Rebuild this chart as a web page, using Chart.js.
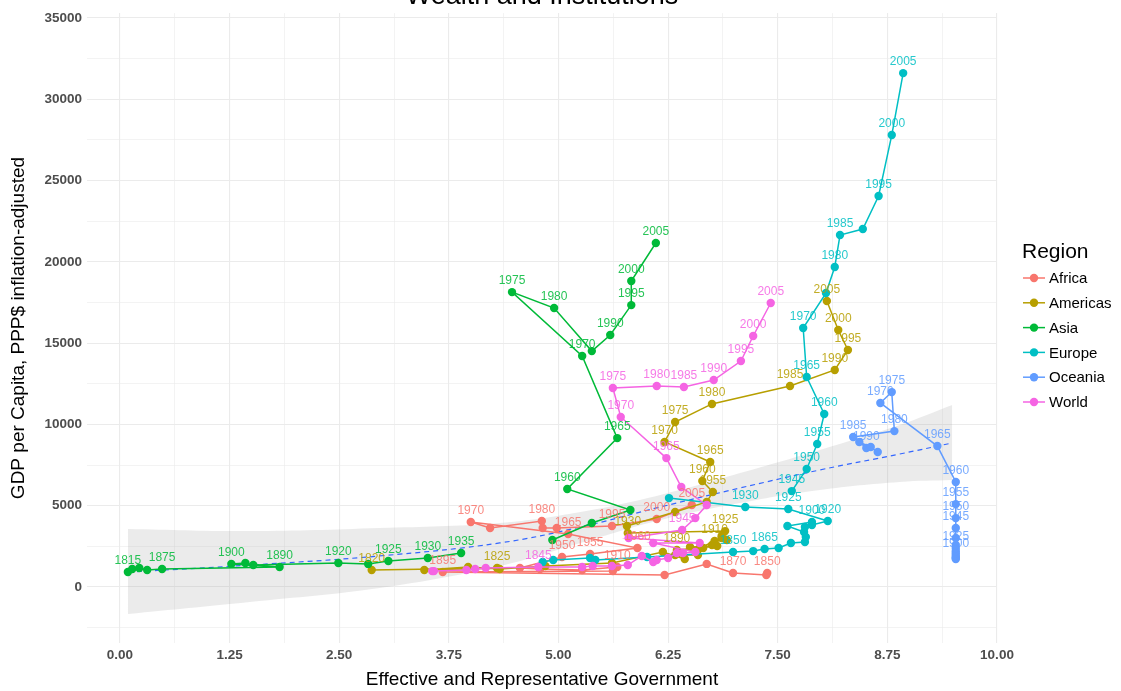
<!DOCTYPE html>
<html>
<head>
<meta charset="utf-8">
<script src="https://cdn.jsdelivr.net/npm/chart.js@4.4.0/dist/chart.umd.min.js"></script>
<style>
  html, body { margin: 0; padding: 0; background: #fff; }
</style>
</head>
<body>
<canvas id="myChart" width="1121" height="691"></canvas>
<script>
// region names + colours (ggplot default hues)
const regions = ['Africa', 'Americas', 'Asia', 'Europe', 'Oceania', 'World'];
const regionColors = ['#F8766D', '#B79F00', '#00BA38', '#00BFC4', '#619CFF', '#F564E3'];

// axis ticks (minor + major grid)
const xTicks = [0,0.625,1.25,1.875,2.5,3.125,3.75,4.375,5,5.625,6.25,6.875,7.5,8.125,8.75,9.375,10];
const yTicks = [-2500,0,2500,5000,7500,10000,12500,15000,17500,20000,22500,25000,27500,30000,32500,35000];

// Africa
const africaYears = [1850,1860,1870,1880,1890,1895,1900,1910,1920,1930,1940,1950,1955,1960,1965,1970,1975,1980,1985,1990,1995,2000,2005];
const africaGov = [7.38,7.37,6.99,6.69,6.21,3.68,5.62,5.67,5.27,4.79,4.56,5.04,5.36,5.90,5.11,4.00,4.22,4.81,4.82,4.98,5.61,6.12,6.52];
const africaGdp = [860,740,860,1420,740,920,980,1230,1050,1110,1170,1850,2030,2400,3260,4000,3630,4060,3630,3630,3750,4180,5040];
const africaShown = [1850,1870,1895,1910,1950,1955,1960,1965,1970,1980,1995,2000,2005];

// Americas
const americasYears = [1820,1825,1830,1835,1840,1845,1850,1855,1860,1865,1870,1875,1880,1885,1890,1895,1900,1905,1910,1915,1920,1925,1930,1935,1940,1950,1955,1960,1965,1970,1975,1980,1985,1990,1995,2000,2005];
const americasGov = [2.87,4.30,3.47,3.97,4.33,4.85,5.61,6.19,6.44,6.33,6.59,6.65,6.50,6.81,6.35,6.61,6.86,6.75,6.78,6.92,6.86,6.90,5.79,5.78,6.33,6.69,6.76,6.64,6.73,6.21,6.33,6.75,7.64,8.15,8.30,8.19,8.06];
const americasGdp = [1050,1170,1050,1230,1110,1290,1480,2150,1720,1970,1970,2400,2460,2520,2280,2400,3010,2580,2830,2890,3140,3440,3320,3750,4610,5230,5840,6520,7690,8920,10150,11260,12360,13350,14580,15810,17590];
const americasShown = [1820,1825,1890,1910,1925,1930,1955,1960,1965,1970,1975,1980,1985,1990,1995,2000,2005];

// Asia (no values 1940)
const asiaYears = [1815,1820,1830,1860,1875,1890,1900,1905,1910,1920,1922,1925,1930,1935,1940,1950,1953,1955,1960,1965,1970,1975,1980,1985,1990,1995,2000,2005];
const asiaGov = [0.09,0.14,0.22,0.31,0.48,1.82,1.27,1.43,1.52,2.49,2.83,3.06,3.51,3.89,null,4.93,5.38,5.82,5.10,5.67,5.27,4.47,4.95,5.38,5.59,5.83,5.83,6.11];
const asiaGdp = [920,1110,1170,1050,1110,1230,1420,1480,1350,1480,1420,1600,1780,2090,null,2890,3940,4740,6030,9160,14210,18140,17160,14510,15500,17340,18820,21160];
const asiaShown = [1815,1875,1890,1900,1920,1925,1930,1935,1960,1965,1970,1975,1980,1990,1995,2000,2005];

// Europe (no values 1940)
const europeYears = [1820,1825,1830,1835,1840,1850,1860,1865,1870,1875,1880,1885,1890,1895,1900,1905,1910,1920,1925,1930,1935,1940,1945,1950,1955,1960,1965,1970,1975,1980,1985,1990,1995,2000,2005];
const europeGov = [4.82,4.94,5.36,5.42,6.01,6.99,7.22,7.35,7.51,7.65,7.81,7.82,7.80,7.61,7.89,7.81,7.89,8.07,7.62,7.13,6.26,null,7.66,7.83,7.95,8.03,7.83,7.79,8.05,8.15,8.21,8.47,8.65,8.80,8.93];
const europeGdp = [1540,1660,1780,1660,1850,2150,2210,2340,2400,2710,2770,3080,3380,3750,4000,3690,3810,4060,4800,4920,5470,null,5900,7260,8800,10640,12920,15930,18080,19680,21650,22020,24050,27800,31610];
const europeShown = [1850,1865,1900,1920,1925,1930,1945,1950,1955,1960,1965,1970,1980,1985,1995,2000,2005];

// Oceania
const oceaniaYears = [1870,1880,1890,1900,1910,1920,1925,1930,1940,1945,1950,1955,1960,1965,1970,1975,1980,1985,1990,1995,2000,2005];
const oceaniaGov = [9.53,9.53,9.53,9.53,9.53,9.53,9.53,9.53,9.53,9.53,9.53,9.53,9.53,9.32,8.67,8.80,8.83,8.36,8.51,8.43,8.56,8.64];
const oceaniaGdp = [1720,1780,1850,1970,2090,2210,2400,2580,3010,3630,4240,5100,6460,8670,11320,11990,9590,9230,8550,8920,8610,8300];
const oceaniaShown = [1900,1925,1945,1950,1955,1960,1965,1970,1975,1980,1985,1990];

// World
const worldYears = [1820,1825,1830,1835,1840,1845,1850,1855,1860,1865,1870,1875,1880,1885,1890,1895,1900,1905,1910,1930,1945,1950,1955,1960,1965,1970,1975,1980,1985,1990,1995,2000,2005];
const worldGov = [3.56,3.58,3.95,4.05,4.17,4.77,5.27,5.39,5.61,5.79,5.95,6.08,6.12,6.25,6.35,6.42,6.56,6.08,6.61,5.80,6.41,6.56,6.69,6.40,6.23,5.71,5.62,6.12,6.43,6.77,7.08,7.22,7.42];
const worldGdp = [980,980,1050,1110,1170,1230,1230,1290,1290,1350,1910,1540,1660,1780,2090,2090,2150,2710,2710,3010,3510,4240,5040,6150,7930,10460,12240,12360,12300,12730,13900,15440,17470];
const worldShown = [1845,1945,1965,1970,1975,1980,1985,1990,1995,2000,2005];

// smooth trend and its confidence band
const smoothGov = [0.09,1.48,2.96,4.33,5.25,6.16,7.07,7.98,8.89,9.49];
const smoothGdp = [920,1350,1910,2710,3690,4920,6090,7200,8180,8860];
const bandLow = [-1660,-920,-60,1290,2710,4120,5170,5970,6460,6580];
const bandHigh = [3570,3440,3630,3940,4610,5660,7010,8430,9960,11190];

const regionData = [
  {years: africaYears, gov: africaGov, gdp: africaGdp, shown: africaShown},
  {years: americasYears, gov: americasGov, gdp: americasGdp, shown: americasShown},
  {years: asiaYears, gov: asiaGov, gdp: asiaGdp, shown: asiaShown},
  {years: europeYears, gov: europeGov, gdp: europeGdp, shown: europeShown},
  {years: oceaniaYears, gov: oceaniaGov, gdp: oceaniaGdp, shown: oceaniaShown},
  {years: worldYears, gov: worldGov, gdp: worldGdp, shown: worldShown}
];

const FONT = '"Liberation Sans", Arial, Helvetica, sans-serif';

let toPoints = (xs, ys) => xs.map((x, i) => ({x: x, y: ys[i]}));

let datasets = regionData.map((r, i) => ({
  label: regions[i],
  data: toPoints(r.gov, r.gdp),
  showLine: true,
  spanGaps: false,
  borderColor: regionColors[i],
  backgroundColor: regionColors[i],
  borderWidth: 1.5,
  pointRadius: 4.2,
  pointHoverRadius: 4.2,
  pointBorderWidth: 0,
  order: 6 - i
}));

datasets.push({
  type: 'line',
  label: 'band low',
  data: toPoints(smoothGov, bandLow),
  borderWidth: 0,
  pointRadius: 0,
  tension: 0.4,
  fill: false,
  order: 30
});
datasets.push({
  type: 'line',
  label: 'band high',
  data: toPoints(smoothGov, bandHigh),
  borderWidth: 0,
  pointRadius: 0,
  tension: 0.4,
  fill: '-1',
  backgroundColor: 'rgba(153,153,153,0.2)',
  order: 30
});
datasets.push({
  type: 'line',
  label: 'smooth',
  data: toPoints(smoothGov, smoothGdp),
  borderColor: '#3366FF',
  borderWidth: 1.2,
  borderDash: [5, 4],
  pointRadius: 0,
  tension: 0.4,
  fill: false,
  order: 20
});

// year labels above points
const yearLabels = {
  id: 'yearLabels',
  afterDatasetsDraw(chart) {
    const ctx = chart.ctx;
    ctx.save();
    ctx.font = '12px ' + FONT;
    ctx.textAlign = 'center';
    ctx.textBaseline = 'alphabetic';
    ctx.globalAlpha = 0.85;
    regionData.forEach((r, i) => {
      const meta = chart.getDatasetMeta(i);
      ctx.fillStyle = regionColors[i];
      r.years.forEach((yr, j) => {
        if (!r.shown.includes(yr)) return;
        const pt = meta.data[j];
        if (!pt || pt.skip) return;
        ctx.fillText(String(yr), pt.x, pt.y - 8);
      });
    });
    ctx.restore();
  }
};

// clipped title + legend on the right
const extras = {
  id: 'extras',
  afterDraw(chart) {
    const ctx = chart.ctx;
    ctx.save();
    ctx.fillStyle = '#000';
    ctx.textAlign = 'center';
    ctx.textBaseline = 'alphabetic';
    ctx.font = '27px ' + FONT;
    ctx.fillText('Wealth and Institutions', (chart.chartArea.left + chart.chartArea.right) / 2, 4);

    ctx.textAlign = 'left';
    ctx.textBaseline = 'middle';
    ctx.font = '21px ' + FONT;
    ctx.fillText('Region', 1022, 252);
    ctx.font = '15px ' + FONT;
    regions.forEach((name, i) => {
      const y = 278 + i * 24.8;
      ctx.strokeStyle = regionColors[i];
      ctx.lineWidth = 1.5;
      ctx.beginPath();
      ctx.moveTo(1023, y);
      ctx.lineTo(1045, y);
      ctx.stroke();
      ctx.fillStyle = regionColors[i];
      ctx.beginPath();
      ctx.arc(1034, y, 4.2, 0, Math.PI * 2);
      ctx.fill();
      ctx.fillStyle = '#000';
      ctx.fillText(name, 1049, y + 1);
    });
    ctx.restore();
  }
};

const gridColor = '#ebebeb';
let isStep = (v, s) => Math.abs(v / s - Math.round(v / s)) < 1e-6;

new Chart(document.getElementById('myChart'), {
  type: 'scatter',
  data: { datasets: datasets },
  options: {
    responsive: false,
    animation: false,
    devicePixelRatio: 1,
    events: [],
    layout: { padding: { top: 13, right: 124, left: 0, bottom: 0 } },
    plugins: { legend: { display: false }, tooltip: { enabled: false } },
    scales: {
      x: {
        type: 'linear',
        min: -0.376,
        max: 10,
        afterBuildTicks: (s) => { s.ticks = xTicks.map(v => ({value: v})); },
        afterFit: (s) => { s.height = 48; },
        border: { display: false },
        grid: {
          drawTicks: false,
          color: gridColor,
          lineWidth: (c) => (c.tick && isStep(c.tick.value, 1.25)) ? 1.1 : 0.6
        },
        ticks: {
          autoSkip: false,
          maxRotation: 0,
          padding: 4,
          color: '#4d4d4d',
          font: { family: FONT, size: 13.5, weight: 'bold' },
          callback: (v) => isStep(v, 1.25) ? Number(v).toFixed(2) : ''
        },
        title: {
          display: true,
          text: 'Effective and Representative Government',
          color: '#000',
          font: { family: FONT, size: 19 },
          padding: { top: 0, bottom: 0 }
        }
      },
      y: {
        type: 'linear',
        min: -3444,
        max: 35301,
        afterBuildTicks: (s) => { s.ticks = yTicks.map(v => ({value: v})); },
        afterFit: (s) => { s.width = 87; },
        border: { display: false },
        grid: {
          drawTicks: false,
          color: gridColor,
          lineWidth: (c) => (c.tick && isStep(c.tick.value, 5000)) ? 1.1 : 0.6
        },
        ticks: {
          autoSkip: false,
          padding: 5,
          color: '#4d4d4d',
          font: { family: FONT, size: 13.5, weight: 'bold' },
          callback: (v) => isStep(v, 5000) ? String(v) : ''
        },
        title: {
          display: true,
          text: 'GDP per Capita, PPP$ inflation-adjusted',
          color: '#000',
          font: { family: FONT, size: 19 },
          padding: { top: 7, bottom: 0 }
        }
      }
    }
  },
  plugins: [yearLabels, extras]
});
</script>
</body>
</html>
